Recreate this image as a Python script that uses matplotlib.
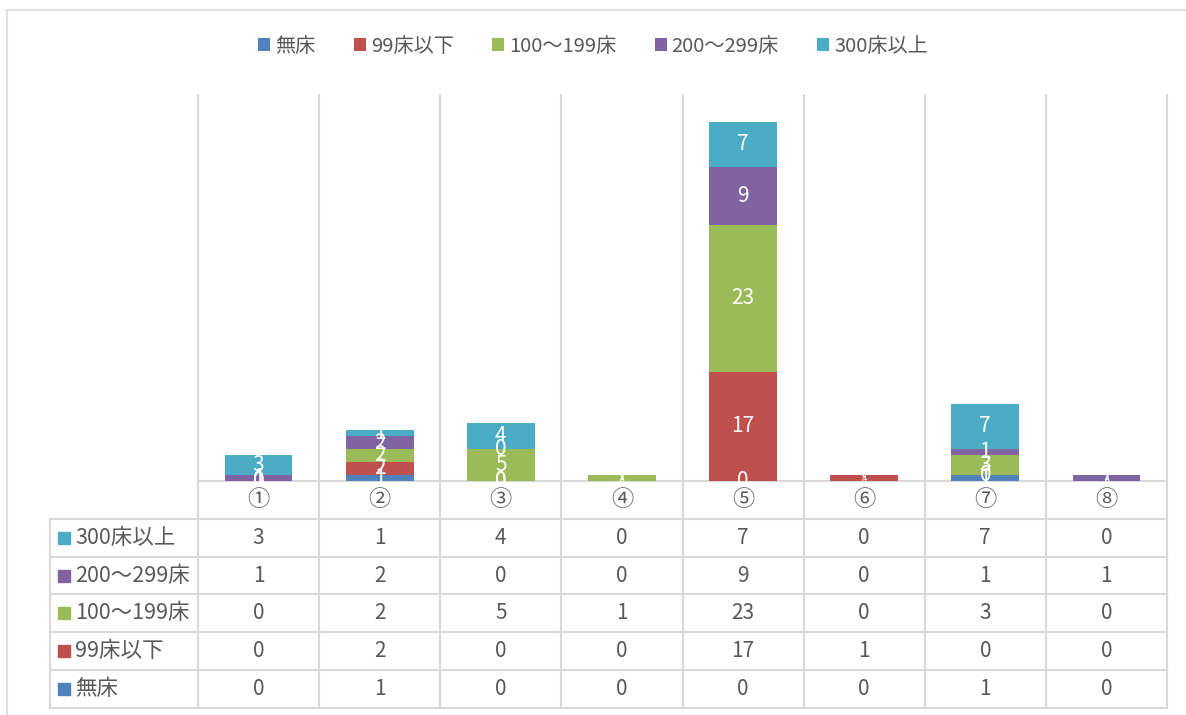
import matplotlib
matplotlib.use("Agg")
import matplotlib.pyplot as plt
import numpy as np
from matplotlib.patches import Rectangle

plt.rcParams['font.family'] = ['Noto Sans CJK JP', 'DejaVu Sans']

categories = ['①', '②', '③', '④', '⑤', '⑥', '⑦', '⑧']
series_names = ['無床', '99床以下', '100～199床', '200～299床', '300床以上']
mushou = [0, 1, 0, 0, 0, 0, 1, 0]
under99 = [0, 2, 0, 0, 17, 1, 0, 0]
b100_199 = [0, 2, 5, 1, 23, 0, 3, 0]
b200_299 = [1, 2, 0, 0, 9, 0, 1, 1]
over300 = [3, 1, 4, 0, 7, 0, 7, 0]
colors = ['#4F81BD', '#C0504D', '#9BBB59', '#8064A2', '#4BACC6']

series = [mushou, under99, b100_199, b200_299, over300]

W, H = 1186, 715
fig = plt.figure(figsize=(W / 100, H / 100), dpi=100)
text_col = '#595959'
grid_col = '#D9D9D9'

# pixel layout
x_left, x_right = 198, 1167
y_base, y_top = 481, 95
tab_left = 50
row_h = 37.8
n = len(categories)
col_w = (x_right - x_left) / n

# overlay axes in pixel coordinates for frame, gridlines and table
bg = fig.add_axes([0, 0, 1, 1])
bg.set_xlim(0, W)
bg.set_ylim(H, 0)
bg.axis('off')

# chart frame
bg.plot([7, W], [10, 10], color='#E0E0E0', lw=1.5)
bg.plot([7, 7], [10, H], color='#E0E0E0', lw=1.5)

# vertical gridlines through plot and table
for i in range(n + 1):
    bg.plot([x_left + i * col_w] * 2, [y_top, y_base + row_h * 6], color=grid_col, lw=1.5)
bg.plot([tab_left, tab_left], [y_base + row_h, y_base + row_h * 6], color=grid_col, lw=1.5)
bg.plot([x_left, x_right], [y_base, y_base], color=grid_col, lw=1.5)
for r in range(1, 7):
    yy = y_base + r * row_h
    bg.plot([tab_left, x_right], [yy, yy], color=grid_col, lw=1.5)

# category labels row
for i, c in enumerate(categories):
    bg.text(x_left + (i + 0.5) * col_w, y_base + row_h / 2, c, ha='center', va='center',
            fontsize=16, color=text_col)

# table rows (top row = last series)
for r, k in enumerate(range(len(series) - 1, -1, -1)):
    yc = y_base + (r + 1.5) * row_h
    bg.add_patch(Rectangle((58, yc - 6), 12, 12, color=colors[k]))
    bg.text(75, yc, series_names[k], ha='left', va='center', fontsize=15.5, color=text_col)
    for i, v in enumerate(series[k]):
        bg.text(x_left + (i + 0.5) * col_w, yc, str(v), ha='center', va='center',
                fontsize=15, color=text_col)

# bar axes
ax = fig.add_axes([x_left / W, 1 - y_base / H, (x_right - x_left) / W, (y_base - y_top) / H])
ax.set_xlim(-0.5, n - 0.5)
ax.set_ylim(0, 60.2)
ax.axis('off')
x = np.arange(n)
totals = np.sum(series, axis=0)
bottom = np.zeros(n)
for k, vals in enumerate(series):
    vals = np.array(vals, dtype=float)
    ax.bar(x, vals, 0.56, bottom=bottom, color=colors[k], label=series_names[k])
    for i in range(n):
        fs = 15 if totals[i] > 1.5 else 6
        ax.text(x[i], bottom[i] + vals[i] / 2, str(int(vals[i])), ha='center', va='center',
                color='white', fontsize=fs)
    bottom += vals

handles, labels = ax.get_legend_handles_labels()
fig.legend(handles, labels, loc='center', bbox_to_anchor=(0.5, 1 - 46 / H), ncol=5,
           frameon=False, fontsize=14.5, handlelength=0.6, handleheight=0.6,
           handletextpad=0.25, columnspacing=1.9, labelcolor=text_col)

fig.savefig('out.png', dpi=100)
